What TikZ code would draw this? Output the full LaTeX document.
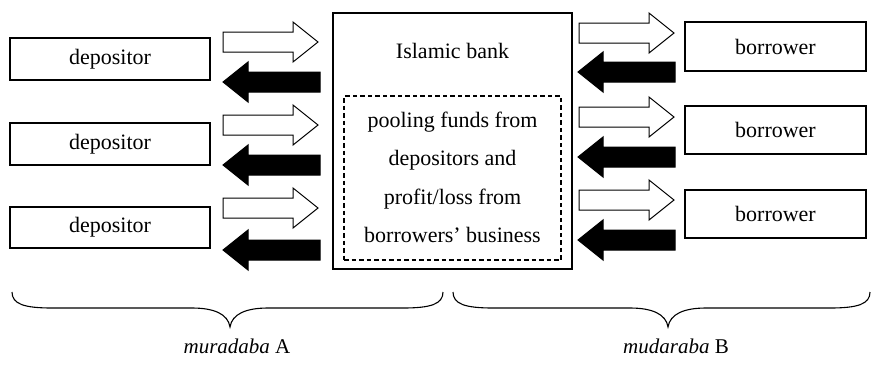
\documentclass[tikz,border=0pt]{standalone}
\usepackage{fontspec}
\setmainfont{Liberation Serif}
\newfontfamily\diagfont{Liberation Serif}
\begin{document}
\begin{tikzpicture}[x=1pt,y=-1pt,
  every node/.style={font=\diagfont\fontsize{22}{26}\selectfont},
  party/.style={draw, line width=1.1pt, minimum width=200pt, inner sep=0pt},
  bankbox/.style={draw, line width=1.1pt, minimum width=239pt, minimum height=256pt, inner sep=0pt},
  poolbox/.style={draw, dash pattern=on 4.5pt off 3pt, line width=1.2pt, minimum width=217pt, minimum height=164pt, inner sep=0pt},
  pooltext/.style={align=center, inner sep=0pt, font=\diagfont\fontsize{22}{38.5}\selectfont},
  brace/.style={line width=1.1pt},
  pics/outflow/.style={code={
    \draw[line width=1pt, fill=white] (-95,-10) -- (-25,-10) -- (-25,-20) -- (0,0)
      -- (-25,20) -- (-25,10) -- (-95,10) -- cycle;}},
  pics/inflow/.style={code={
    \draw[line width=1pt, fill=black] (97,-10) -- (25,-10) -- (25,-20) -- (0,0)
      -- (25,20) -- (25,10) -- (97,10) -- cycle;}},
]
\useasboundingbox (0,0) rectangle (872,365);

% depositors on the left
\node[party, minimum height=42pt] (d1) at (110,59) {depositor};
\node[party, minimum height=42pt] (d2) at (110,144) {depositor};
\node[party, minimum height=41pt] (d3) at (110,227.5) {depositor};

% the bank and its pool
\node[bankbox] (bank) at (452.5,141) {};
\node[anchor=base] (banktitle) at (452.5,58) {Islamic bank};
\node[poolbox] (pool) at (452.5,178) {};
\node[pooltext] (pooltxt) at (452.5,177.5) {pooling funds from\\depositors and\\profit/loss from\\borrowers’ business};

% borrowers on the right
\node[party, minimum width=181pt, minimum height=49pt] (b1) at (775.5,46.5) {borrower};
\node[party, minimum width=181pt, minimum height=48pt] (b2) at (775.5,130) {borrower};
\node[party, minimum width=181pt, minimum height=48pt] (b3) at (775.5,214) {borrower};

% flows between depositors and bank
\coordinate (lw1) at (318,42);  \coordinate (lb1) at (223,82);
\coordinate (lw2) at (318,125); \coordinate (lb2) at (223,165);
\coordinate (lw3) at (318,208); \coordinate (lb3) at (223,250);
\foreach \i in {1,2,3} {
  \pic at (lw\i) {outflow};
  \pic at (lb\i) {inflow};
}

% flows between bank and borrowers
\coordinate (rw1) at (674,33);  \coordinate (rb1) at (578,72);
\coordinate (rw2) at (674,117); \coordinate (rb2) at (578,157);
\coordinate (rw3) at (674,200); \coordinate (rb3) at (578,240);
\foreach \i in {1,2,3} {
  \pic at (rw\i) {outflow};
  \pic at (rb\i) {inflow};
}

% braces and their labels
\coordinate (ta) at (230,327);
\coordinate (tb) at (668,327);
\draw[brace] (12,292) .. controls (12,304) and (24,308) .. (52,308) -- (192,308)
  .. controls (214,308) and (228,314) .. (ta)
  .. controls (232,314) and (246,308) .. (268,308) -- (403,308)
  .. controls (431,308) and (443,304) .. (443,292);
\draw[brace] (453,292) .. controls (453,304) and (465,308) .. (493,308) -- (630,308)
  .. controls (652,308) and (666,314) .. (tb)
  .. controls (670,314) and (684,308) .. (706,308) -- (830,308)
  .. controls (858,308) and (870,304) .. (870,292);
\node[anchor=base, font=\diagfont\fontsize{21}{25}\selectfont] (la) at (237,353) {\textit{muradaba} A};
\node[anchor=base, font=\diagfont\fontsize{21}{25}\selectfont] (lb) at (676,353) {\textit{mudaraba} B};
\end{tikzpicture}
\end{document}
